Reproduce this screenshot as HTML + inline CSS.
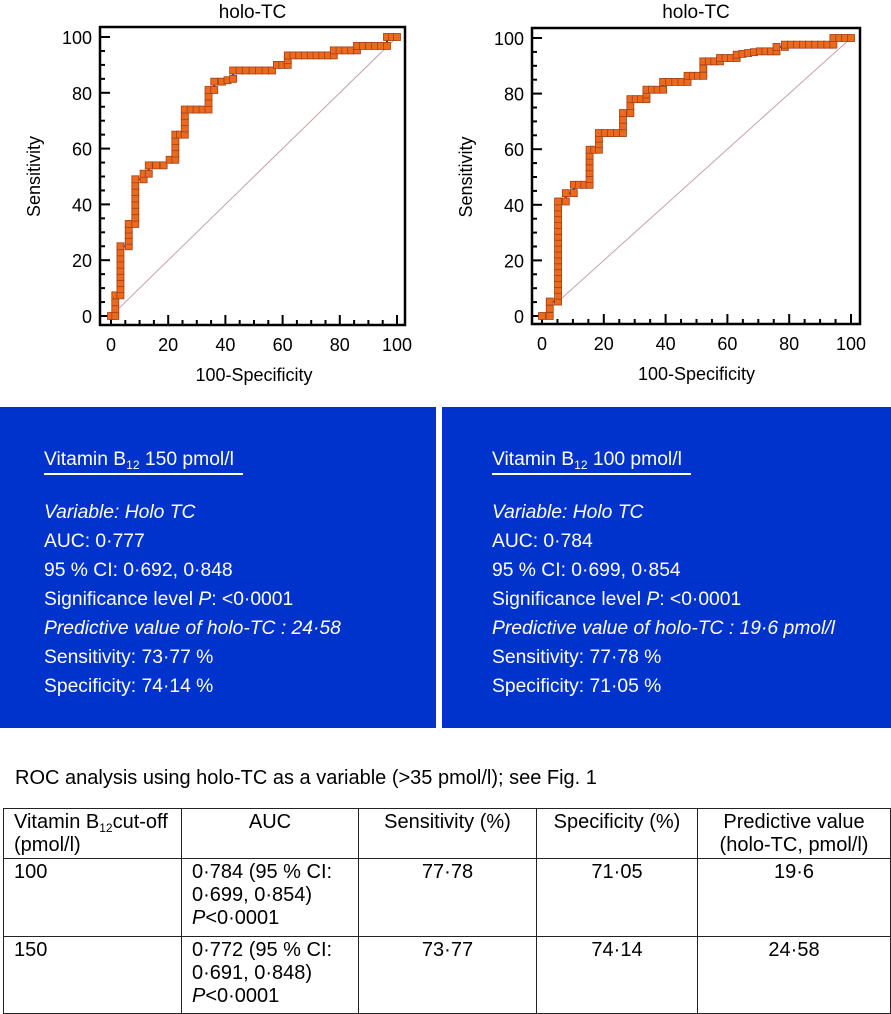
<!DOCTYPE html>
<html><head><meta charset="utf-8"><style>
body{margin:0;width:891px;height:1014px;background:#fff;position:relative;overflow:hidden;font-family:"Liberation Sans",Arial,sans-serif;}
.panel{position:absolute;top:407px;height:321px;background:#0033cc;color:#fff;font-size:19.3px;}
.line{position:absolute;left:44px;white-space:nowrap;}
.ul{position:absolute;left:44px;height:2px;background:#fff;}
sub{font-size:12px;vertical-align:-4px;line-height:0;}
.cap{position:absolute;left:15px;top:767px;font-size:20px;}
table{position:absolute;left:3px;top:808px;border-collapse:collapse;font-size:20px;}
td{border:1.5px solid #222;vertical-align:top;padding:2px 10px 0 10px;line-height:23px;box-sizing:border-box;white-space:nowrap;}
</style></head><body>
<svg id="charts" width="891" height="400" style="position:absolute;left:0;top:0"></svg>

<div class="panel" style="left:0;width:436px">
  <div class="line" style="top:42px">Vitamin B<sub>12</sub> 150 pmol/l</div>
  <div class="ul" style="top:66px;width:199px"></div>
  <div class="line" style="top:95px;font-style:italic">Variable: Holo TC</div>
  <div class="line" style="top:124px">AUC: 0·777</div>
  <div class="line" style="top:153px">95 % CI: 0·692, 0·848</div>
  <div class="line" style="top:182px">Significance level <i>P</i>: &lt;0·0001</div>
  <div class="line" style="top:211px;font-style:italic">Predictive value of holo-TC : 24·58</div>
  <div class="line" style="top:240px">Sensitivity: 73·77 %</div>
  <div class="line" style="top:269px">Specificity: 74·14 %</div>
</div>
<div class="panel" style="left:442px;width:449px">
  <div class="line" style="top:42px;left:50px">Vitamin B<sub>12</sub> 100 pmol/l</div>
  <div class="ul" style="top:66px;width:199px;left:50px"></div>
  <div class="line" style="top:95px;left:50px;font-style:italic">Variable: Holo TC</div>
  <div class="line" style="top:124px;left:50px">AUC: 0·784</div>
  <div class="line" style="top:153px;left:50px">95 % CI: 0·699, 0·854</div>
  <div class="line" style="top:182px;left:50px">Significance level <i>P</i>: &lt;0·0001</div>
  <div class="line" style="top:211px;left:50px;font-style:italic">Predictive value of holo-TC : 19·6 pmol/l</div>
  <div class="line" style="top:240px;left:50px">Sensitivity: 77·78 %</div>
  <div class="line" style="top:269px;left:50px">Specificity: 71·05 %</div>
</div>

<div class="cap">ROC analysis using holo-TC as a variable (&gt;35 pmol/l); see Fig. 1</div>
<table>
<tr style="height:50px"><td style="width:178px">Vitamin B<sub>12</sub>cut-off<br>(pmol/l)</td><td style="width:177px;text-align:center">AUC</td><td style="width:178px;text-align:center">Sensitivity (%)</td><td style="width:161px;text-align:center">Specificity (%)</td><td style="width:193px;text-align:center">Predictive value<br>(holo-TC, pmol/l)</td></tr>
<tr style="height:78px"><td>100</td><td>0·784 (95 % CI:<br>0·699, 0·854)<br><i>P</i>&lt;0·0001</td><td style="text-align:center">77·78</td><td style="text-align:center">71·05</td><td style="text-align:center">19·6</td></tr>
<tr style="height:77px"><td>150</td><td>0·772 (95 % CI:<br>0·691, 0·848)<br><i>P</i>&lt;0·0001</td><td style="text-align:center">73·77</td><td style="text-align:center">74·14</td><td style="text-align:center">24·58</td></tr>
</table>

<script>
const ticks = [0,20,40,60,80,100];
const leftX = [0,1.5,1.5,3.3,3.3,6.2,6.2,8.5,8.5,11.4,11.4,13.2,13.2,18.4,20.5,22.5,22.5,25.8,25.8,34.1,34.1,36.1,36.1,38.8,42.7,42.7,56.3,58,61.8,61.8,77.9,77.9,86,86,96.5,96.5,100];
const leftY = [0,0,7.4,7.4,25,25,33,33,49,49,51,51,54,54,56,56,65,65,74,74,81,81,84,84,85,88,88,90,90,93.4,93.4,95.2,95.2,96.8,96.8,100,100];
const rightX = [0,2.5,2.5,5.2,5.2,7.7,7.7,10.3,10.3,15.4,15.4,18.4,18.4,26.2,26.2,28.6,28.6,33.8,33.8,39.2,39.2,47.1,47.1,52.2,52.2,57.6,57.6,63,63,70.5,75.9,75.9,78.6,78.6,94.3,94.3,100];
const rightY = [0,0,5.2,5.2,41.2,41.2,44.2,44.2,47.2,47.2,59.8,59.8,65.8,65.8,73,73,78,78,81.4,81.4,84.2,84.2,86.4,86.4,91.6,91.6,92.8,92.8,94,95.2,95.2,96.8,96.8,97.6,97.6,100,100];

const NS="http://www.w3.org/2000/svg";
const svg=document.getElementById('charts');
const FF='Liberation Sans, sans-serif';
function mk(tag,attrs){const e=document.createElementNS(NS,tag);for(const k in attrs)e.setAttribute(k,attrs[k]);svg.appendChild(e);return e;}
function chart(id,fx,fy,xs,ys){
  const sx=v=>fx.x0+(fx.x1-fx.x0)*v/100, sy=v=>fy.y0+(fy.y1-fy.y0)*v/100;
  let t=mk('text',{x:(fx.l+fx.r)/2,y:18,'text-anchor':'middle','font-size':19,'font-family':FF});
  t.textContent='holo-TC';
  
  
  let d=mk('line',{x1:sx(0),y1:sy(0),x2:sx(100),y2:sy(100),stroke:'#c9a0a8','stroke-width':1});
  
  
  for(let v=0;v<=100;v+=5){
    const L=v%20===0?10:5;
    mk('line',{x1:fx.l,x2:fx.l+L,y1:sy(v),y2:sy(v),stroke:'#000','stroke-width':2});
    mk('line',{y1:fy.b,y2:fy.b-L,x1:sx(v),x2:sx(v),stroke:'#000','stroke-width':2});
  }
  ticks.forEach(v=>{
    let a=mk('text',{x:fx.l-8,y:sy(v)+7,'text-anchor':'end','font-size':18,'font-family':FF});a.textContent=v;
    
    
    let b=mk('text',{x:sx(v),y:fy.b+26,'text-anchor':'middle','font-size':18,'font-family':FF});b.textContent=v;
    
    
  });
  let xt=mk('text',{x:sx(50),y:fy.b+56,'text-anchor':'middle','font-size':18,'font-family':FF});xt.textContent='100-Specificity';
  
  
  let yt=mk('text',{x:0,y:0,'text-anchor':'middle','font-size':18,'font-family':FF,transform:`translate(${fx.l-60},${sy(50)}) rotate(-90)`});yt.textContent='Sensitivity';
  
  
  const pts=xs.map((x,i)=>[sx(x),sy(ys[i])]);
  let pl=mk('polyline',{points:pts.map(p=>p.join(',')).join(' '),fill:'none',stroke:'#2a2aa0','stroke-width':2});
  
  
  for(let i=0;i<pts.length-1;i++){
    const [ax,ay]=pts[i],[bx,by]=pts[i+1];
    const len=Math.hypot(bx-ax,by-ay); const n=Math.max(1,Math.round(len/6));
    for(let k=0;k<=n;k++){
      if(k===n&&i<pts.length-2)continue;
      const px=ax+(bx-ax)*k/n, py=ay+(by-ay)*k/n;
      let m=mk('rect',{x:px-3.5,y:py-3.5,width:7,height:7,fill:'#ec6a1e',stroke:'#a04018','stroke-width':0.8});
      
      
    }
  }
  let fr=mk('rect',{x:fx.l,y:fy.t,width:fx.r-fx.l,height:fy.b-fy.t,fill:'none',stroke:'#000','stroke-width':2.5});
  
  
}
chart('left-chart',{l:100,r:405,x0:111,x1:397},{t:27,b:325,y0:316,y1:37},leftX,leftY);
chart('right-chart',{l:532,r:860,x0:542,x1:851},{t:28,b:324,y0:316,y1:38},rightX,rightY);
</script>
</body></html>
